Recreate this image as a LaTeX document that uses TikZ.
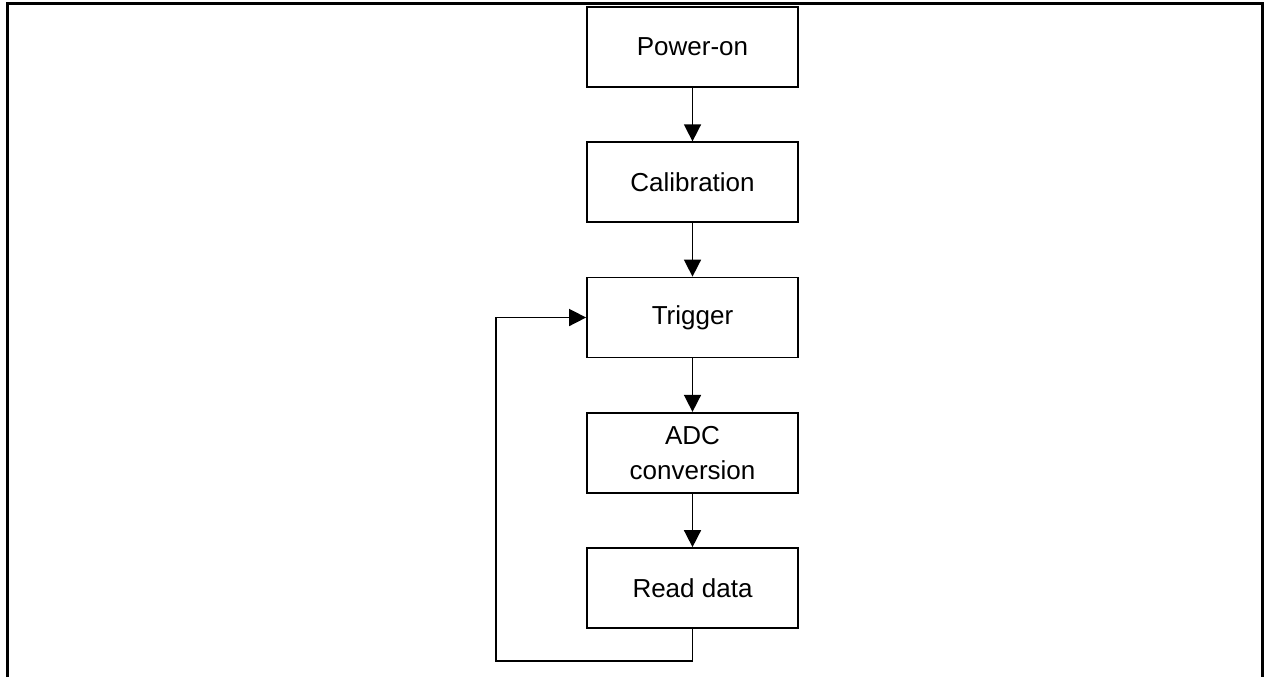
\documentclass[tikz,border=0pt]{standalone}
\usepackage{fontspec}
\setmainfont{Liberation Sans}
\usetikzlibrary{positioning,arrows.meta}

\tikzset{
  stage/.style={draw, line width=1pt, minimum width=4.22cm, minimum height=1.6cm,
    align=center, inner sep=0pt, font=\fontsize{14.8}{20}\selectfont},
  flow/.style={line width=0.9pt, -{Triangle[length=0.34cm,width=0.34cm]}},
}

\begin{document}
\begin{tikzpicture}

  % === Measurement flow ===
  \def\picW{25.38}   % page width
  \def\picH{13.54}   % page height
  \def\loopx{9.92}   % x of the feedback line
  \def\loopdrop{0.64} % drop below the last box

  \useasboundingbox (0,0) rectangle (\picW,\picH);

  % Frame (open at the bottom)
  \draw[line width=1.4pt] (0.15,0) -- (0.15,13.47) -- (25.25,13.47) -- (25.25,0);

  % Stages
  \node[stage] (pwron) at (13.85,12.6) {Power-on};
  \node[stage, below=1.07cm of pwron] (calib) {Calibration};
  \node[stage, below=1.07cm of calib] (trig) {Trigger};
  \node[stage, below=1.07cm of trig] (adc) {ADC\\conversion};
  \node[stage, below=1.07cm of adc] (rdata) {Read data};

  % Forward arrows
  \draw[flow] (pwron) -- (calib);
  \draw[flow] (calib) -- (trig);
  \draw[flow] (trig) -- (adc);
  \draw[flow] (adc) -- (rdata);

  % Loop back to trigger
  \coordinate (lpbot) at ([yshift=-\loopdrop cm]rdata.south);
  \coordinate (lpleft) at (\loopx,0);
  \draw[flow] (rdata.south) -- (lpbot) -- (lpleft |- lpbot) -- (lpleft |- trig.west) -- (trig.west);

\end{tikzpicture}
\end{document}
